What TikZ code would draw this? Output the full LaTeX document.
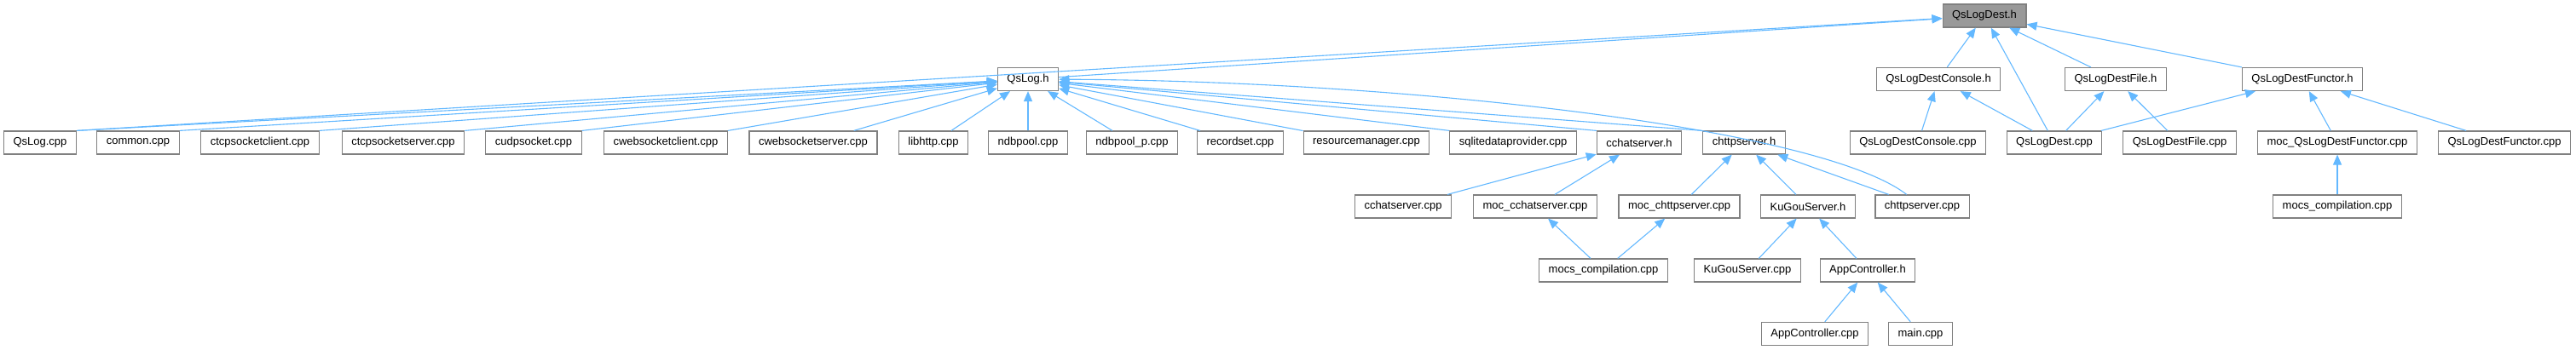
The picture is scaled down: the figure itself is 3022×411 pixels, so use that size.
\documentclass[tikz,border=0pt]{standalone}
\usepackage{fontspec}
\setmainfont{Liberation Sans}
\usetikzlibrary{arrows.meta}

\begin{document}
\begin{tikzpicture}[
  x=0.5pt, y=-0.5pt,
  file/.style={
    draw=black!50,
    line width=0.6pt,
    fill=white,
    minimum height=13.5pt,
    inner xsep=5.5pt,
    inner ysep=0pt,
    font=\fontsize{6.5pt}{7pt}\selectfont
  },
  root/.style={
    file,
    fill=rootcol
  },
  dep/.style={
    draw=edgecol,
    line width=0.55pt,
    -{Triangle[length=6pt, width=5pt]}
  }
]

\definecolor{rootcol}{RGB}{153,153,153}
\definecolor{edgecol}{RGB}{99,184,255}

\useasboundingbox (0,0) rectangle (3022,411);

% headers
\node[root] (qslogdesth) at (2328,18.5) {QsLogDest.h};
\node[file] (qslogh) at (1206,93) {QsLog.h};
\node[file] (consoleh) at (2274,93) {QsLogDestConsole.h};
\node[file] (fileh) at (2482,93) {QsLogDestFile.h};
\node[file] (functorh) at (2701,93) {QsLogDestFunctor.h};

% second row
\node[file] (qslogcpp) at (47,167.5) {QsLog.cpp};
\node[file] (commoncpp) at (162,167.5) {common.cpp};
\node[file] (tcpclient) at (305,167.5) {ctcpsocketclient.cpp};
\node[file] (tcpserver) at (473,167.5) {ctcpsocketserver.cpp};
\node[file] (udpsocket) at (626,167.5) {cudpsocket.cpp};
\node[file] (wsclient) at (781,167.5) {cwebsocketclient.cpp};
\node[file] (wsserver) at (954,167.5) {cwebsocketserver.cpp};
\node[file] (libhttp) at (1095,167.5) {libhttp.cpp};
\node[file] (ndbpool) at (1206,167.5) {ndbpool.cpp};
\node[file] (ndbpoolp) at (1328,167.5) {ndbpool\_p.cpp};
\node[file] (recordset) at (1455,167.5) {recordset.cpp};
\node[file] (resmgr) at (1603,167.5) {resourcemanager.cpp};
\node[file] (sqlite) at (1775,167.5) {sqlitedataprovider.cpp};
\node[file] (chath) at (1923,167.5) {cchatserver.h};
\node[file] (httph) at (2046,167.5) {chttpserver.h};
\node[file] (consolecpp) at (2250,167.5) {QsLogDestConsole.cpp};
\node[file] (destcpp) at (2410,167.5) {QsLogDest.cpp};
\node[file] (filecpp) at (2557,167.5) {QsLogDestFile.cpp};
\node[file] (mocfunctor) at (2742,167.5) {moc\_QsLogDestFunctor.cpp};
\node[file] (functorcpp) at (2938,167.5) {QsLogDestFunctor.cpp};

% third row
\node[file] (chatcpp) at (1646,242.5) {cchatserver.cpp};
\node[file] (mocchat) at (1801,242.5) {moc\_cchatserver.cpp};
\node[file] (mochttp) at (1970,242.5) {moc\_chttpserver.cpp};
\node[file] (kugouh) at (2121,242.5) {KuGouServer.h};
\node[file] (httpcpp) at (2255,242.5) {chttpserver.cpp};
\node[file] (mocsright) at (2742,242.5) {mocs\_compilation.cpp};

% lower rows
\node[file] (mocsleft) at (1881,317.5) {mocs\_compilation.cpp};
\node[file] (kugoucpp) at (2050,317.5) {KuGouServer.cpp};
\node[file] (apph) at (2191,317.5) {AppController.h};
\node[file] (appcpp) at (2129,392) {AppController.cpp};
\node[file] (maincpp) at (2253,392) {main.cpp};

% includes of QsLogDest.h
\draw[dep] (qslogcpp.north east) -- (qslogdesth);
\draw[dep] (qslogh) -- (qslogdesth);
\draw[dep] (consoleh) -- (qslogdesth);
\draw[dep] (destcpp) -- (qslogdesth);
\draw[dep] (fileh) -- (qslogdesth);
\draw[dep] (functorh.north west) -- (qslogdesth);

% includes of QsLog.h
\draw[dep] (qslogcpp.north east) -- (qslogh);
\draw[dep] (commoncpp.north east) -- (qslogh);
\draw[dep] (tcpclient.north east) -- (qslogh);
\draw[dep] (tcpserver.north east) -- (qslogh);
\draw[dep] (udpsocket.north east) -- (qslogh);
\draw[dep] (wsclient.north east) -- (qslogh);
\draw[dep] (wsserver) -- (qslogh);
\draw[dep] (libhttp) -- (qslogh);
\draw[dep] (ndbpool) -- (qslogh);
\draw[dep] (ndbpoolp) -- (qslogh);
\draw[dep] (recordset) -- (qslogh);
\draw[dep] (resmgr) -- (qslogh);
\draw[dep] (sqlite.north west) -- (qslogh);
\draw[dep] (chath.north west) -- (qslogh);
\draw[dep] (httph.north west) -- (qslogh);
\draw[dep] (httpcpp) .. controls (2135,150) and (1650,95) .. (qslogh);

% QsLogDest family
\draw[dep] (consolecpp) -- (consoleh);
\draw[dep] (destcpp) -- (consoleh);
\draw[dep] (destcpp) -- (fileh);
\draw[dep] (filecpp) -- (fileh);
\draw[dep] (destcpp) -- (functorh);
\draw[dep] (mocfunctor) -- (functorh);
\draw[dep] (functorcpp) -- (functorh);
\draw[dep] (mocsright) -- (mocfunctor);

% servers
\draw[dep] (chatcpp) -- (chath);
\draw[dep] (mocchat) -- (chath);
\draw[dep] (mochttp) -- (httph);
\draw[dep] (kugouh) -- (httph);
\draw[dep] (httpcpp) -- (httph);
\draw[dep] (mocsleft) -- (mocchat);
\draw[dep] (mocsleft) -- (mochttp);
\draw[dep] (kugoucpp) -- (kugouh);
\draw[dep] (apph) -- (kugouh);
\draw[dep] (appcpp) -- (apph);
\draw[dep] (maincpp) -- (apph);

\end{tikzpicture}
\end{document}
